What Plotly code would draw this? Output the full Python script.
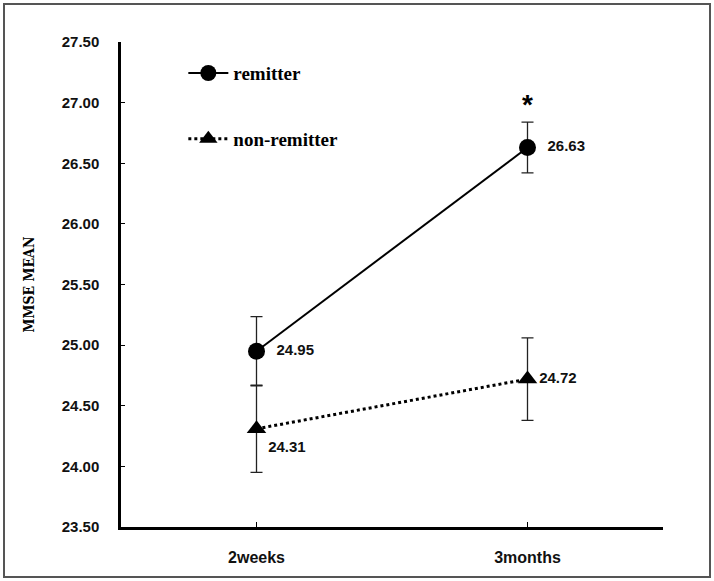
import plotly.graph_objects as go

categories = ["2weeks", "3months"]
remitter = [24.95, 26.63]
remitter_err = [0.285, 0.21]
non_remitter = [24.31, 24.72]
non_remitter_err = [0.36, 0.34]
y_ticks = [23.5, 24.0, 24.5, 25.0, 25.5, 26.0, 26.5, 27.0, 27.5]
y_ticklabels = ["%.2f" % v for v in y_ticks]

W, H = 714, 581
ml, mr, mt, mb = 121, 51, 42, 54
pw, ph = W - ml - mr, H - mt - mb

label_font = dict(family="Liberation Sans, Arial", size=15, color="#111", weight="bold")

fig = go.Figure()
fig.add_trace(go.Scatter(
    x=categories, y=remitter, name="remitter", legendgroup="a",
    mode="lines+markers+text",
    line=dict(color="black", width=2),
    marker=dict(symbol="circle", size=17, color="black"),
    error_y=dict(type="data", array=remitter_err, color="#222", thickness=1.3, width=6),
    text=["  %.2f" % v for v in remitter],
    textposition=["middle right", "middle right"],
    textfont=label_font,
))
fig.add_trace(go.Scatter(
    x=categories, y=non_remitter, name="non-remitter", legendgroup="b",
    mode="lines+markers+text",
    line=dict(color="black", width=3, dash="dot"),
    marker=dict(symbol="triangle-up", size=17, color="black"),
    error_y=dict(type="data", array=non_remitter_err, color="#222", thickness=1.3, width=6),
    text=["%.2f" % non_remitter[0], "%.2f" % non_remitter[1]],
    textposition=["bottom right", "middle right"],
    textfont=label_font,
))

fig.add_annotation(x=categories[1], y=remitter[1] + remitter_err[1], text="*",
                   showarrow=False, yshift=18,
                   font=dict(family="Liberation Sans, Arial", size=28, color="black", weight="bold"))

fig.add_shape(type="rect", xref="paper", yref="paper",
              x0=(4 - ml) / pw, x1=(710 - ml) / pw,
              y0=-(577 - mt - ph) / ph, y1=1 + (mt - 4) / ph,
              line=dict(color="#555", width=2), layer="below")

fig.update_layout(
    width=W, height=H,
    margin=dict(l=ml, r=mr, t=mt, b=mb),
    paper_bgcolor="white", plot_bgcolor="white",
    showlegend=True,
    legend=dict(x=0.115, y=0.975, xanchor="left", yanchor="top",
                font=dict(family="Liberation Serif, Times New Roman", size=19, color="black", weight="bold"),
                bgcolor="rgba(0,0,0,0)", tracegroupgap=38, itemwidth=40),
    xaxis=dict(range=[-0.5, 1.5], showline=True, linecolor="black", linewidth=2.5,
               ticks="inside", ticklen=5, tickcolor="black", showgrid=False, zeroline=False,
               tickfont=dict(family="Liberation Sans, Arial", size=16, color="#111", weight="bold"),
               ticklabelstandoff=14),
    yaxis=dict(range=[23.5, 27.5], tickvals=y_ticks, ticktext=y_ticklabels,
               showline=True, linecolor="black", linewidth=2.5,
               ticks="inside", ticklen=4, tickcolor="black", showgrid=False, zeroline=False,
               tickfont=dict(family="Liberation Sans, Arial", size=15, color="#111", weight="bold"),
               ticklabelstandoff=16,
               title=dict(text="MMSE MEAN", standoff=24,
                          font=dict(family="DejaVu Serif Condensed, DejaVu Sans Condensed", size=14,
                                    color="black", weight="bold"))),
)
fig.write_html("out.html", config={"displayModeBar": False},
               post_script="document.body.style.margin='0';")
